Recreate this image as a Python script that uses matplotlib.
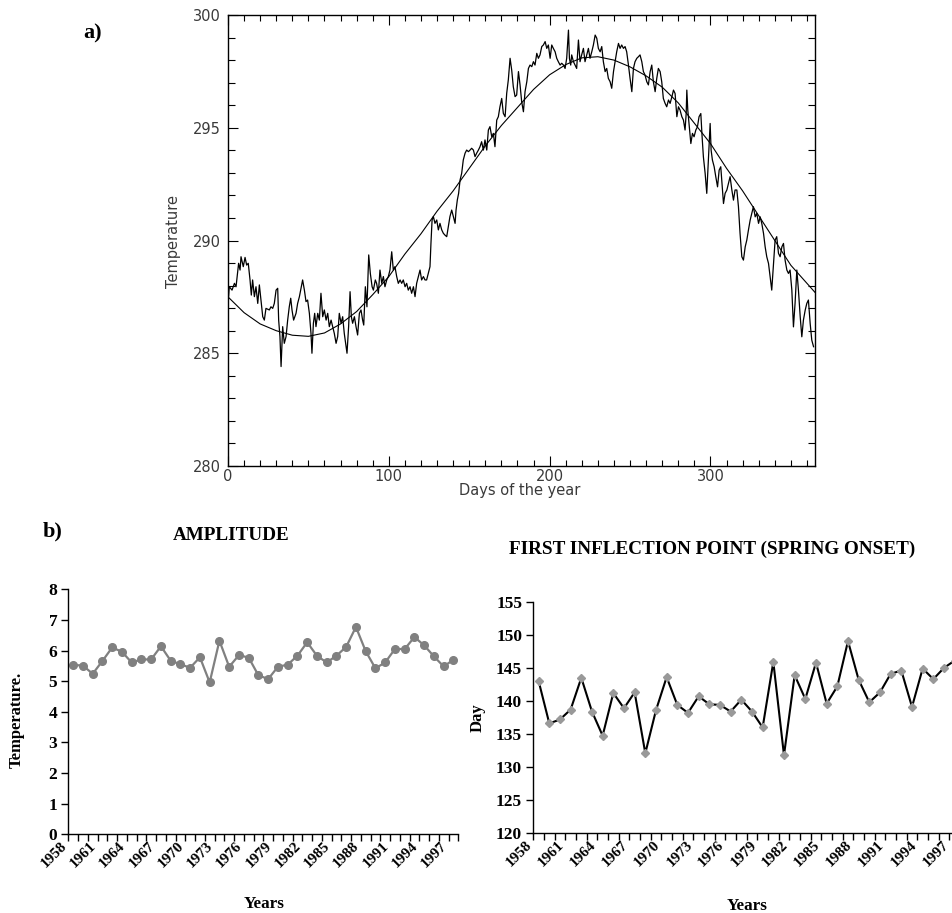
import matplotlib
matplotlib.use('Agg')
import matplotlib.pyplot as plt
import numpy as np
from matplotlib.ticker import MultipleLocator, FixedLocator
from matplotlib.transforms import ScaledTranslation

# ---------------- Panel a data: daily temperature -------------
day = [0.0, 0.3, 0.8, 2.5, 4.0, 5.0, 6.6, 7.5, 8.1, 9.5, 10.6, 11.6, 12.6, 13.7, 14.5, 15.3, 16.4,
       17.4, 18.5, 19.5, 20.5, 21.6, 22.6, 23.6, 25.7, 26.7, 27.8, 28.8, 29.9, 30.9, 31.5, 32.3,
       33.0, 34.0, 35.0, 36.1, 37.1, 38.1, 39.0, 39.8, 40.8, 42.3, 43.3, 44.4, 45.6, 46.4, 47.5,
       48.5, 49.5, 50.6, 51.6, 52.2, 53.1, 53.9, 54.7, 55.8, 56.8, 57.8, 58.9, 59.9, 61.0, 62.0,
       63.0, 64.1, 65.1, 66.1, 67.2, 68.2, 69.2, 70.3, 71.3, 72.3, 73.4, 74.0, 75.0, 75.9, 76.7,
       77.5, 78.6, 79.6, 80.6, 81.7, 82.7, 83.7, 84.4, 85.4, 86.4, 87.5, 88.5, 89.6, 90.4, 91.6,
       92.4, 93.5, 94.5, 95.6, 96.6, 97.6, 98.7, 99.7, 100.7, 101.8, 102.8, 103.8, 104.9, 105.9,
       107.0, 108.0, 109.0, 110.1, 111.1, 112.1, 113.2, 114.2, 115.3, 116.3, 117.3, 118.4, 119.4,
       120.4, 121.5, 122.5, 123.5, 124.6, 125.6, 126.2, 126.9, 127.7, 128.7, 129.8, 130.8, 131.8,
       132.9, 133.9, 134.9, 136.0, 137.0, 138.0, 139.1, 140.1, 141.2, 141.8, 142.6, 143.4, 144.3,
       145.3, 146.3, 147.4, 148.4, 149.5, 150.5, 151.5, 152.6, 153.6, 154.6, 155.7, 156.7, 157.7,
       158.8, 159.8, 160.9, 161.9, 162.9, 164.0, 165.0, 166.0, 167.1, 168.1, 169.1, 170.2, 171.2,
       172.3, 173.3, 174.3, 175.4, 176.4, 177.4, 178.5, 179.5, 180.6, 181.6, 182.6, 183.7, 184.7,
       185.8, 186.8, 187.8, 188.9, 189.9, 190.9, 192.0, 193.0, 194.0, 195.1, 196.1, 197.2, 198.2,
       199.2, 200.3, 201.3, 202.3, 203.4, 204.4, 205.4, 206.5, 207.5, 208.6, 209.6, 210.6, 211.7,
       212.3, 213.1, 213.7, 214.8, 215.8, 216.8, 217.9, 218.9, 219.9, 221.0, 222.0, 223.1, 224.1,
       225.1, 226.2, 227.2, 228.3, 229.3, 230.3, 231.4, 232.4, 233.4, 234.5, 235.5, 236.5, 237.6,
       238.6, 239.7, 240.7, 241.7, 242.8, 243.8, 244.8, 245.9, 246.9, 247.9, 249.0, 250.0, 251.1,
       252.1, 253.1, 254.2, 255.2, 256.2, 257.3, 258.3, 259.3, 260.4, 261.4, 262.5, 263.5, 264.5,
       265.6, 266.6, 267.6, 268.7, 269.7, 270.7, 271.8, 272.8, 273.9, 274.9, 276.0, 277.0, 278.0,
       279.1, 280.1, 281.1, 282.2, 283.2, 284.2, 284.9, 285.3, 285.9, 287.0, 287.8, 288.8, 289.8,
       290.9, 291.9, 292.9, 294.0, 294.8, 295.6, 296.7, 297.7, 298.8, 299.8, 300.4, 301.2, 302.3,
       303.3, 304.4, 305.4, 306.4, 307.3, 308.1, 309.1, 310.2, 311.2, 312.2, 313.3, 314.3, 315.3,
       316.4, 317.4, 318.4, 319.5, 320.5, 321.6, 322.6, 323.6, 324.7, 325.7, 326.7, 327.8, 328.8,
       329.9, 330.9, 331.9, 333.0, 334.0, 335.0, 336.1, 337.1, 338.1, 339.2, 340.2, 341.2, 342.3,
       343.3, 344.4, 345.4, 346.4, 347.5, 348.5, 349.5, 350.6, 351.6, 352.6, 353.7, 354.7, 355.8,
       356.8, 357.8, 358.9, 359.9, 360.9, 362.0, 363.0, 364.1]
temp = [288.69, 287.51, 287.95, 287.80, 288.10, 287.95, 288.99, 288.69, 289.28, 288.84, 289.25,
        288.91, 288.99, 288.25, 287.58, 288.25, 287.51, 287.95, 287.21, 288.03, 287.36, 286.62,
        286.47, 286.99, 286.92, 287.06, 286.99, 287.21, 287.80, 287.88, 286.47, 285.74, 284.41,
        286.18, 285.44, 285.74, 286.47, 287.06, 287.44, 286.92, 286.47, 286.77, 287.21, 287.51,
        287.95, 288.25, 287.80, 287.29, 287.36, 286.77, 285.88, 285.00, 286.33, 286.77, 286.18,
        286.77, 286.47, 287.66, 286.62, 286.92, 286.47, 286.77, 286.18, 286.47, 286.18, 285.88,
        285.44, 285.74, 286.77, 286.33, 286.62, 285.88, 285.29, 285.00, 286.18, 287.73, 286.62,
        286.33, 286.62, 286.18, 285.81, 286.77, 286.92, 286.47, 286.25, 287.95, 287.06, 289.36,
        288.54, 287.95, 287.80, 288.25,
        288.10, 287.66, 288.69, 288.10, 288.40, 287.95, 288.25, 288.40, 288.69, 289.50, 288.69,
        288.84, 288.40, 288.10, 288.25, 288.10, 288.25, 287.95, 288.10, 287.80, 287.95, 287.66,
        287.95, 287.51, 288.10, 288.40, 288.69, 288.25, 288.40, 288.25, 288.25, 288.55, 288.84,
        289.88, 290.91, 291.06, 290.76, 290.91, 290.47, 290.76, 290.47, 290.32, 290.24, 290.17,
        290.61, 291.06, 291.35, 291.06, 290.76, 291.35, 291.80, 292.09, 292.68, 292.98, 293.57,
        293.87, 294.01, 293.94, 294.01, 294.09, 294.01, 293.72, 293.87, 294.01, 294.16, 294.38,
        294.01, 294.46, 294.01, 294.90, 295.05, 294.60, 294.75, 294.16, 295.34, 295.49, 295.93,
        296.30, 295.64, 295.49, 296.53, 297.12, 298.08, 297.56, 296.82, 296.38,
        296.45, 297.49, 296.90, 296.16, 295.71, 296.60, 297.04, 297.63, 297.78, 297.71, 297.93,
        297.78, 298.30, 298.08, 298.23, 298.60, 298.67, 298.82, 298.52, 298.67, 298.08, 298.67,
        298.52, 298.37, 298.08, 297.93, 297.78, 297.86, 297.78, 297.63, 298.08, 299.33, 298.08,
        297.78, 298.23, 297.93, 297.78, 297.63, 298.89, 297.93, 298.23, 298.52, 297.93, 298.23,
        298.52, 298.08, 298.37, 298.67, 299.11, 298.97, 298.52, 298.37, 298.60, 297.93, 297.49,
        297.63, 297.19, 297.04, 296.75, 297.49, 297.93, 298.37, 298.74, 298.52, 298.67, 298.52,
        298.60, 298.37, 297.78, 297.19, 296.60, 297.63, 297.93, 298.08, 298.15, 298.23, 297.93,
        297.49, 297.34, 297.04, 296.90, 297.49, 297.78, 297.04, 296.60, 297.19, 297.63, 297.49,
        297.04, 296.30,
        296.08, 295.93, 296.23, 296.08, 296.37, 296.67, 296.52, 295.49, 295.93, 295.78, 295.49,
        295.34, 294.90, 295.63, 296.67, 295.78, 294.90, 294.30, 294.75, 294.60, 294.90, 295.04,
        295.49, 295.63, 294.60, 293.71, 292.97, 292.09, 293.71, 295.19, 294.01, 293.57, 293.27,
        292.83, 292.38, 293.12, 293.27, 292.38, 291.64, 292.09, 292.24, 292.53, 292.83, 292.24,
        291.79, 292.24, 292.24, 291.50, 290.31, 289.28, 289.13, 289.72, 290.02, 290.46, 290.91,
        291.20, 291.50, 291.05, 291.20, 290.76, 291.05, 290.76, 290.31, 289.72, 289.28, 288.98,
        288.39, 287.80, 288.98, 290.02, 290.17, 289.43, 289.28, 289.72, 289.87, 289.13, 288.69,
        288.54, 288.69, 287.80, 286.17, 287.21, 288.69, 287.80, 286.62, 285.73, 286.47, 286.91,
        287.21, 287.36, 286.32, 285.58, 285.29]

# smooth annual fit (every 10 days)
fit_day = [0, 10, 20, 30, 40, 50, 60, 70, 80, 90, 100, 110, 120, 130, 140, 150, 160, 170, 180,
           190, 200, 210, 220, 230, 240, 250, 260, 270, 280, 290, 300, 310, 320, 330, 340, 350,
           360, 365]
fit_temp = [287.5, 286.8, 286.3, 286.0, 285.8, 285.75, 285.9, 286.3, 286.85, 287.6, 288.4, 289.4,
            290.3, 291.3, 292.2, 293.2, 294.2, 295.1, 295.9, 296.7, 297.35, 297.8, 298.1, 298.15,
            298.0, 297.7, 297.3, 296.8, 296.1, 295.2, 294.3, 293.2, 292.2, 291.1, 290.0, 288.9,
            288.1, 287.7]

# ---------------- Panel b data -------------
years = list(range(1958, 1998))
amplitude = [5.53, 5.51, 5.24, 5.66, 6.10, 5.96, 5.61, 5.71, 5.71, 6.14, 5.67, 5.55, 5.44, 5.78,
             4.96, 6.32, 5.47, 5.85, 5.77, 5.19, 5.07, 5.47, 5.54, 5.83, 6.27, 5.83, 5.61, 5.83,
             6.12, 6.77, 5.98, 5.42, 5.61, 6.05, 6.05, 6.44, 6.17, 5.81, 5.48, 5.70]
spring_onset = [143.0, 136.6, 137.2, 138.7, 143.5, 138.4, 134.75, 141.2, 138.9, 141.3, 132.1,
                138.6, 143.6, 139.4, 138.2, 140.7, 139.5, 139.4, 138.4, 140.2, 138.4, 136.0,
                145.9, 131.8, 143.9, 140.3, 145.8, 139.6, 142.2, 149.05, 143.2, 139.8, 141.3,
                144.1, 144.6, 139.1, 144.9, 143.3, 145.0, 146.1]

W, H = 953, 913
fig = plt.figure(figsize=(W / 100, H / 100), dpi=100)


def fr(x0, y0, x1, y1):
    return [x0 / W, 1 - y1 / H, (x1 - x0) / W, (y1 - y0) / H]


def fx(x):
    return x / W


def fy(y):
    return 1 - y / H


serif = 'Liberation Serif'
idl_color = '#3a3a3a'

# ---------------- Panel a -------------
axA = fig.add_axes(fr(228, 15, 815, 466))
axA.plot(day, temp, color='black', lw=0.9)
axA.plot(fit_day, fit_temp, color='black', lw=0.8)
axA.set_xlim(0, 365)
axA.set_ylim(280, 300)
axA.xaxis.set_major_locator(FixedLocator([0, 100, 200, 300]))
axA.xaxis.set_minor_locator(MultipleLocator(10))
axA.yaxis.set_major_locator(MultipleLocator(5))
axA.yaxis.set_minor_locator(MultipleLocator(1))
axA.tick_params(which='both', direction='in', top=True, right=True, labelsize=10.5,
                labelcolor=idl_color, color='black', width=0.8)
axA.tick_params(which='major', length=7)
axA.tick_params(which='minor', length=4)
axA.tick_params(axis='y', which='minor', length=5)
axA.tick_params(axis='x', pad=2)
axA.tick_params(axis='y', pad=5)
for s in axA.spines.values():
    s.set_linewidth(1.0)
fig.text(fx(174), fy(241), 'Temperature', rotation=90, ha='center', va='center',
         fontsize=10.5, color=idl_color)
fig.text(fx(520), fy(491), 'Days of the year', ha='center', va='center',
         fontsize=10.5, color=idl_color)
fig.text(fx(93), fy(33), 'a)', ha='center', va='center', fontsize=16,
         fontweight='bold', family=serif)

# ---------------- Panel b helpers -------------
x = np.arange(len(years))
label_shift = ScaledTranslation(-13 / 100, 3 / 100, fig.dpi_scale_trans)


def style_b(ax, ymin, ymax, ystep):
    ax.set_xlim(-0.5, len(years) - 0.5)
    ax.set_ylim(ymin, ymax)
    ax.spines['top'].set_visible(False)
    ax.spines['right'].set_visible(False)
    ax.spines['left'].set_linewidth(1.0)
    ax.spines['bottom'].set_linewidth(1.0)
    ax.set_yticks(np.arange(ymin, ymax + ystep / 2, ystep))
    ax.set_xticks(x[::3])
    ax.set_xticklabels([str(y) for y in years[::3]], rotation=45, ha='right', va='top',
                       rotation_mode='anchor')
    ax.set_xticks(np.arange(-0.5, len(years), 1), minor=True)
    ax.tick_params(axis='x', which='major', length=0, pad=6)
    ax.tick_params(axis='x', which='minor', length=5, direction='out', width=1)
    ax.tick_params(axis='y', length=5, direction='out', width=1, pad=3)
    for lab in ax.get_xticklabels() + ax.get_yticklabels():
        lab.set_fontfamily(serif)
        lab.set_fontweight('bold')
    for lab in ax.get_xticklabels():
        lab.set_transform(lab.get_transform() + label_shift)
    ax.tick_params(axis='y', labelsize=12.5)
    ax.tick_params(axis='x', labelsize=11)


# ---------------- Panel b left: amplitude -------------
axL = fig.add_axes(fr(68.3, 589.3, 458.3, 834.3))
axL.plot(x, amplitude, color='#808080', lw=1.6, marker='o', ms=5.5,
         markerfacecolor='#808080', markeredgecolor='#808080')
style_b(axL, 0, 8, 1)

# ---------------- Panel b right: spring onset -------------
axR = fig.add_axes(fr(533.3, 601.7, 960, 833.3))
axR.plot(x, spring_onset, color='black', lw=1.5, marker='D', ms=4.5,
         markerfacecolor='#999999', markeredgecolor='#999999', zorder=3)
style_b(axR, 120, 155, 5)

fig.text(fx(53), fy(531), 'b)', ha='center', va='center', fontsize=16,
         fontweight='bold', family=serif)
fig.text(fx(231), fy(535), 'AMPLITUDE', ha='center', va='center', fontsize=13.8,
         fontweight='bold', family=serif)
fig.text(fx(712), fy(549), 'FIRST INFLECTION POINT (SPRING ONSET)', ha='center',
         va='center', fontsize=13.8, fontweight='bold', family=serif)
fig.text(fx(17), fy(720), 'Temperature.', rotation=90, ha='center', va='center',
         fontsize=12, fontweight='bold', family=serif)
fig.text(fx(478), fy(718), 'Day', rotation=90, ha='center', va='center',
         fontsize=12, fontweight='bold', family=serif)
fig.text(fx(264), fy(904), 'Years', ha='center', va='center', fontsize=12.3,
         fontweight='bold', family=serif)
fig.text(fx(747), fy(906), 'Years', ha='center', va='center', fontsize=12.3,
         fontweight='bold', family=serif)

fig.savefig('out.png', dpi=100)
